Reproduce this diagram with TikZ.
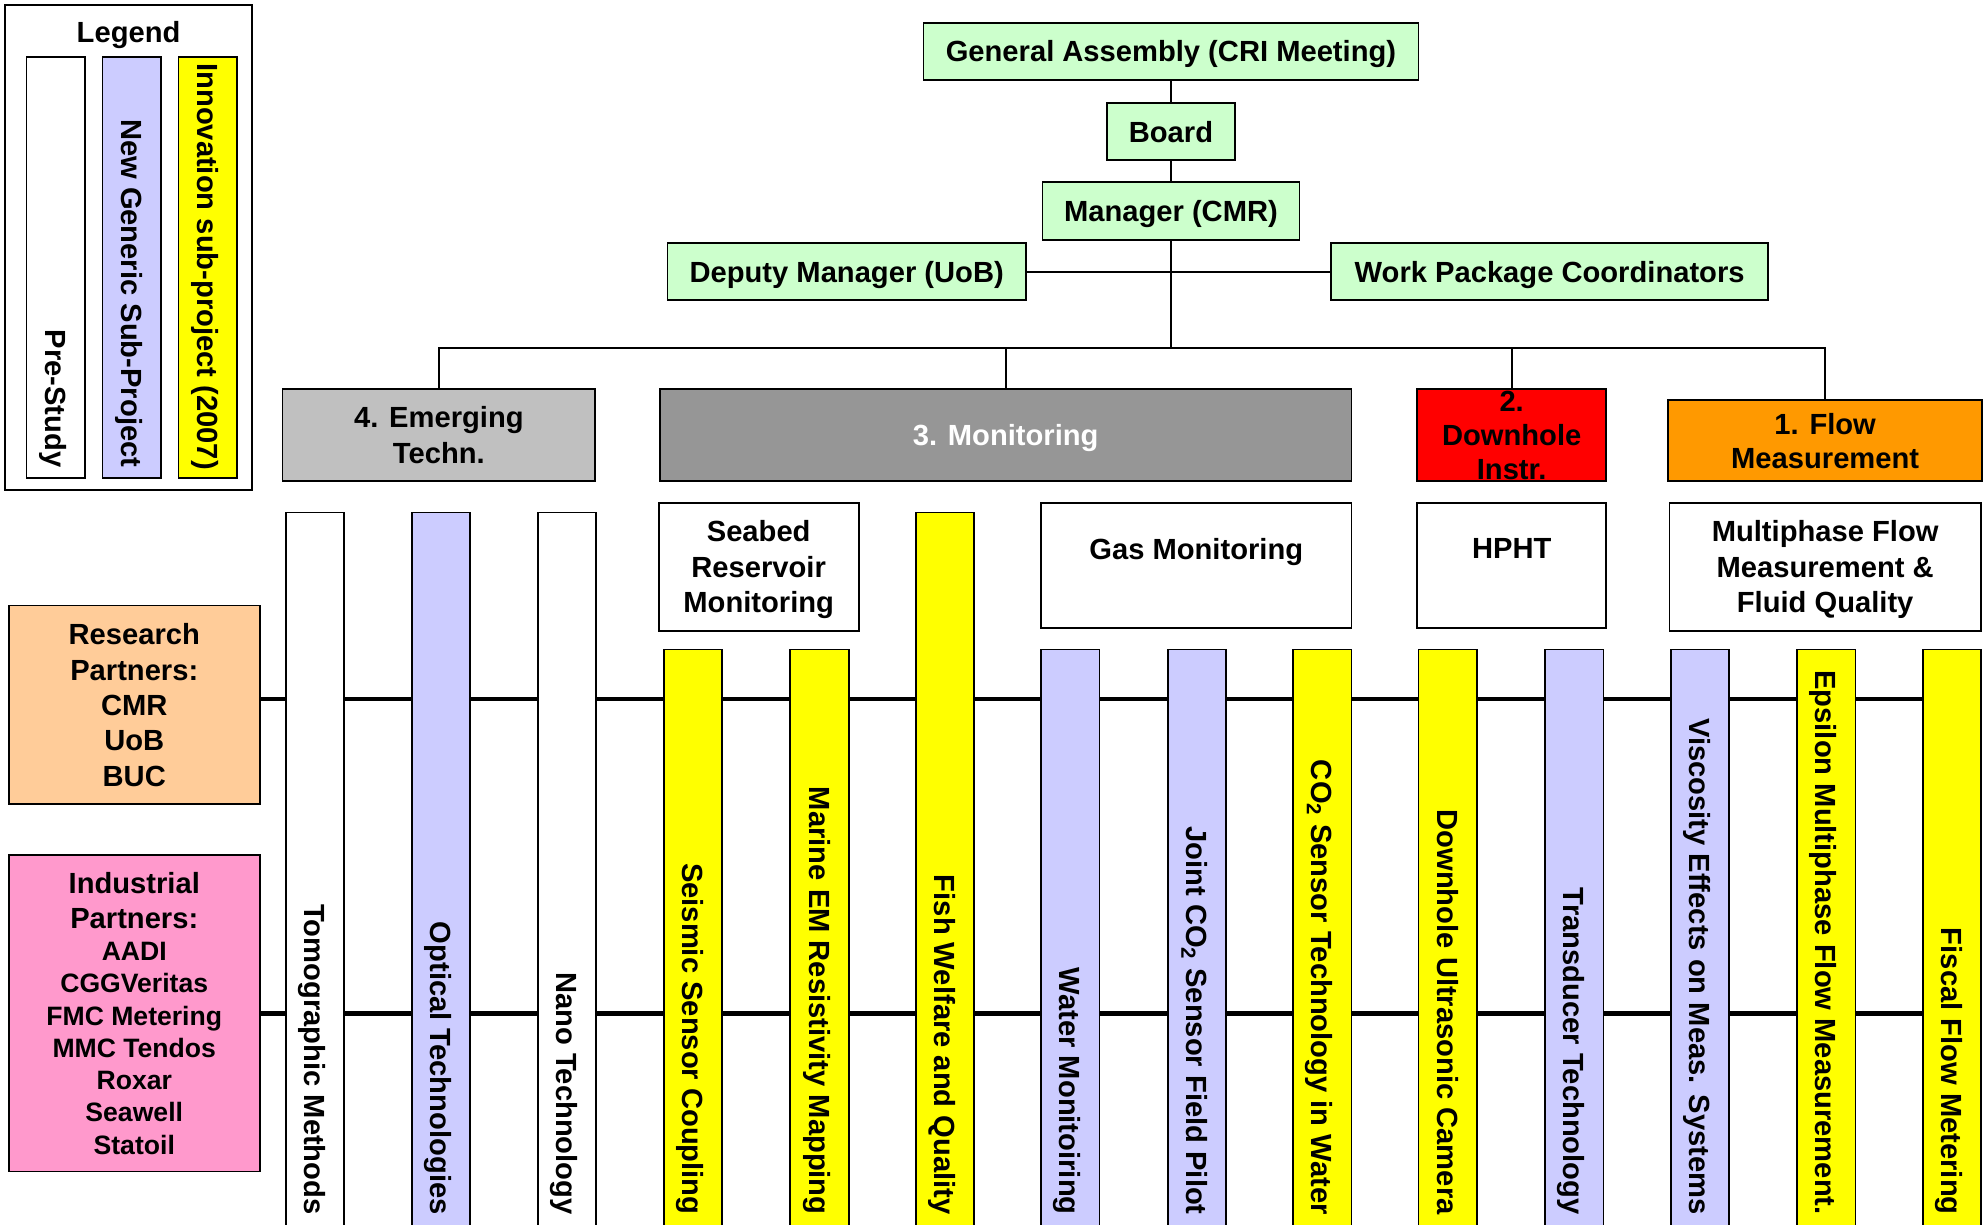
\documentclass[tikz,border=0pt]{standalone}
\usepackage{fontspec}
\setmainfont{Liberation Sans}
\usepackage{tikz}
\usetikzlibrary{positioning}
\usetikzlibrary{backgrounds}
\definecolor{boardgreen}{HTML}{CCFFCC}
\definecolor{emerggray}{HTML}{C0C0C0}
\definecolor{mongray}{HTML}{969696}
\definecolor{floworange}{HTML}{FF9900}
\definecolor{newblue}{HTML}{CCCCFF}
\definecolor{innoyellow}{HTML}{FFFF00}
\definecolor{respeach}{HTML}{FFCC99}
\definecolor{indpink}{HTML}{FF99CC}
\newcommand{\labfont}{\fontsize{13.1}{15.9}\selectfont\bfseries}
\newcommand{\cofont}{\fontsize{11.95}{14.5}\selectfont\bfseries}
\tikzset{
  box/.style={draw, line width=0.8pt, align=center, font=\labfont, inner sep=0pt, text depth=0pt},
  orgbox/.style={box, fill=boardgreen, minimum height=0.9cm},
  wpbox/.style={box, minimum height=1.46cm},
  taskbox/.style={box, fill=white},
  txt/.style={font=\labfont, align=center, inner sep=0pt, text depth=0pt},
  bar/.style={draw, line width=0.8pt, minimum width=0.92cm, anchor=north},
  tallbar/.style={bar, minimum height=11.44cm},
  shortbar/.style={bar, minimum height=9.28cm},
  bartext/.style={rotate=-90, anchor=east, font=\labfont, inner sep=0pt,
    text height=9.4pt, text depth=0pt},
  link/.style={line width=0.8pt},
  partner/.style={line width=2pt}
}

\begin{document}
\begin{tikzpicture}[x=0.02cm, y=-0.02cm]
\useasboundingbox (0,0) rectangle (1568,967);

% Legend
\node[box, minimum width=3.9cm, minimum height=7.66cm] (legend) at (101.5,195.5) {};
\node[txt] (legend-t) at (101.5,25) {Legend};
\node[bar, fill=white, minimum height=6.66cm] (pre) at (44,44) {};
\node[bar, fill=newblue, minimum height=6.66cm] (newgen) at (104,44) {};
\node[bar, fill=innoyellow, minimum height=6.66cm] (inno) at (164,44) {};
\node[bartext] (pre-t) at ([yshift=0.18cm]pre.south) {Pre-Study};
\node[bartext] (newgen-t) at ([yshift=0.18cm]newgen.south) {New Generic Sub-Project};
\node[bartext] (inno-t) at ([yshift=0.14cm]inno.south) {Innovation sub-project (2007)};

% Management
\node[orgbox, minimum width=7.82cm] (ga) at (924.5,40.5) {General Assembly (CRI Meeting)};
\node[orgbox, minimum width=2.02cm, below=0.34cm of ga] (board) {Board};
\node[orgbox, minimum width=4.06cm, minimum height=0.92cm, below=0.32cm of board] (mgr) {Manager (CMR)};
\node[orgbox, minimum width=5.66cm] (dep) at (668.5,214.5) {Deputy Manager (UoB)};
\node[orgbox, minimum width=6.9cm] (wpc) at (1223.5,214.5) {Work Package Coordinators};
\coordinate (hub) at (924.5,274.5);

% Work packages
\node[wpbox, fill=emerggray, minimum width=4.94cm] (emerg) at (346.5,343.5) {4. Emerging\\Techn.};
\node[wpbox, fill=mongray, minimum width=10.92cm, text=white] (mon) at (794,343.5) {3. Monitoring};
\node[wpbox, fill=red, minimum width=2.98cm] (down) at (1193.5,343.5) {};
\node[txt] (down-t) at (down) {2.\\[-0.6pt]Downhole\\[-0.6pt]Instr.};
\node[box, fill=floworange, minimum width=4.96cm, minimum height=1.28cm] (flow) at (1441,348) {1. Flow\\[-0.6pt]Measurement};

\draw[link] (ga) -- (board);
\draw[link] (board) -- (mgr);
\draw[link] (dep) -- (wpc);
\draw[link, line width=1.1pt] (mgr) -- (hub);
\draw[link] (hub) -| (emerg);
\draw[link] (hub) -| (mon);
\draw[link] (hub) -| (down);
\draw[link] (hub) -| (flow);

% Sub-project groups
\node[taskbox, minimum width=3.16cm, minimum height=2.02cm] (seabed) at (599,447.5) {Seabed\\Reservoir\\Monitoring};
\node[taskbox, minimum width=4.9cm, minimum height=1.98cm] (gas) at (944.5,446.5) {};
\node[txt] (gas-t) at ([yshift=-0.74cm]gas.north) {Gas Monitoring};
\node[taskbox, minimum width=2.98cm, minimum height=1.98cm] (hpht) at (1193.5,446.5) {};
\node[txt] (hpht-t) at ([yshift=-0.74cm]hpht.north) {HPHT};
\node[taskbox, minimum width=4.92cm, minimum height=2.02cm] (mpf) at (1441,447.5) {Multiphase Flow\\Measurement \&\\Fluid Quality};

% Sub-projects
\node[tallbar, fill=white] (tomo) at (248.5,404) {};
\node[tallbar, fill=newblue] (optic) at (348,404) {};
\node[tallbar, fill=white] (nano) at (447.5,404) {};
\node[shortbar, fill=innoyellow] (seismic) at (547,512) {};
\node[shortbar, fill=innoyellow] (marine) at (647,512) {};
\node[tallbar, fill=innoyellow] (fish) at (746,404) {};
\node[shortbar, fill=newblue] (water) at (845,512) {};
\node[shortbar, fill=newblue] (joint) at (945,512) {};
\node[shortbar, fill=innoyellow] (co2) at (1044,512) {};
\node[shortbar, fill=innoyellow] (camera) at (1143,512) {};
\node[shortbar, fill=newblue] (transd) at (1243,512) {};
\node[shortbar, fill=newblue] (visc) at (1342,512) {};
\node[shortbar, fill=innoyellow] (eps) at (1442,512) {};
\node[shortbar, fill=innoyellow] (fiscal) at (1541,512) {};

\node[bartext] (tomo-t) at ([yshift=0.36cm]tomo.south) {Tomographic Methods};
\node[bartext] (optic-t) at ([yshift=0.36cm]optic.south) {Optical Technologies};
\node[bartext] (nano-t) at ([yshift=0.36cm]nano.south) {Nano Technology};
\node[bartext] (seismic-t) at ([yshift=0.36cm]seismic.south) {Seismic Sensor Coupling};
\node[bartext] (marine-t) at ([yshift=0.36cm]marine.south) {Marine EM Resistivity Mapping};
\node[bartext] (fish-t) at ([yshift=0.36cm]fish.south) {Fish Welfare and Quality};
\node[bartext] (water-t) at ([yshift=0.36cm]water.south) {Water Monitoiring};
\node[bartext] (joint-t) at ([yshift=0.36cm]joint.south) {Joint CO\textsubscript{2} Sensor Field Pilot};
\node[bartext] (co2-t) at ([yshift=0.36cm]co2.south) {CO\textsubscript{2} Sensor Technology in Water};
\node[bartext] (camera-t) at ([yshift=0.36cm]camera.south) {Downhole Ultrasonic Camera};
\node[bartext] (transd-t) at ([yshift=0.36cm]transd.south) {Transducer Technology};
\node[bartext] (visc-t) at ([yshift=0.36cm]visc.south) {Viscosity Effects on Meas. Systems};
\node[bartext] (eps-t) at ([yshift=0.36cm]eps.south) {Epsilon Multiphase Flow Measurement.};
\node[bartext] (fiscal-t) at ([yshift=0.36cm]fiscal.south) {Fiscal Flow Metering};

% Partners
\node[box, fill=respeach, minimum width=3.96cm, minimum height=3.14cm] (res) at (106,556.5)
  {Research\\Partners:\\CMR\\UoB\\BUC};
\node[box, fill=indpink, minimum width=3.96cm, minimum height=5cm] (ind) at (106,800)
  {Industrial\\Partners:\\[-1.7pt]{\cofont AADI}\\[-1.4pt]{\cofont CGGVeritas}\\[-1.4pt]{\cofont FMC Metering}\\[-1.4pt]{\cofont MMC Tendos}\\[-1.4pt]{\cofont Roxar}\\[-1.4pt]{\cofont Seawell}\\[-1.4pt]{\cofont Statoil}};

\coordinate (resline) at ([yshift=0.09cm]res.east);
\begin{scope}[on background layer]
\draw[partner] (resline) -- (resline -| fiscal.west);
\draw[partner] (ind.east) -- (ind.east -| fiscal.west);
\end{scope}

\end{tikzpicture}
\end{document}
